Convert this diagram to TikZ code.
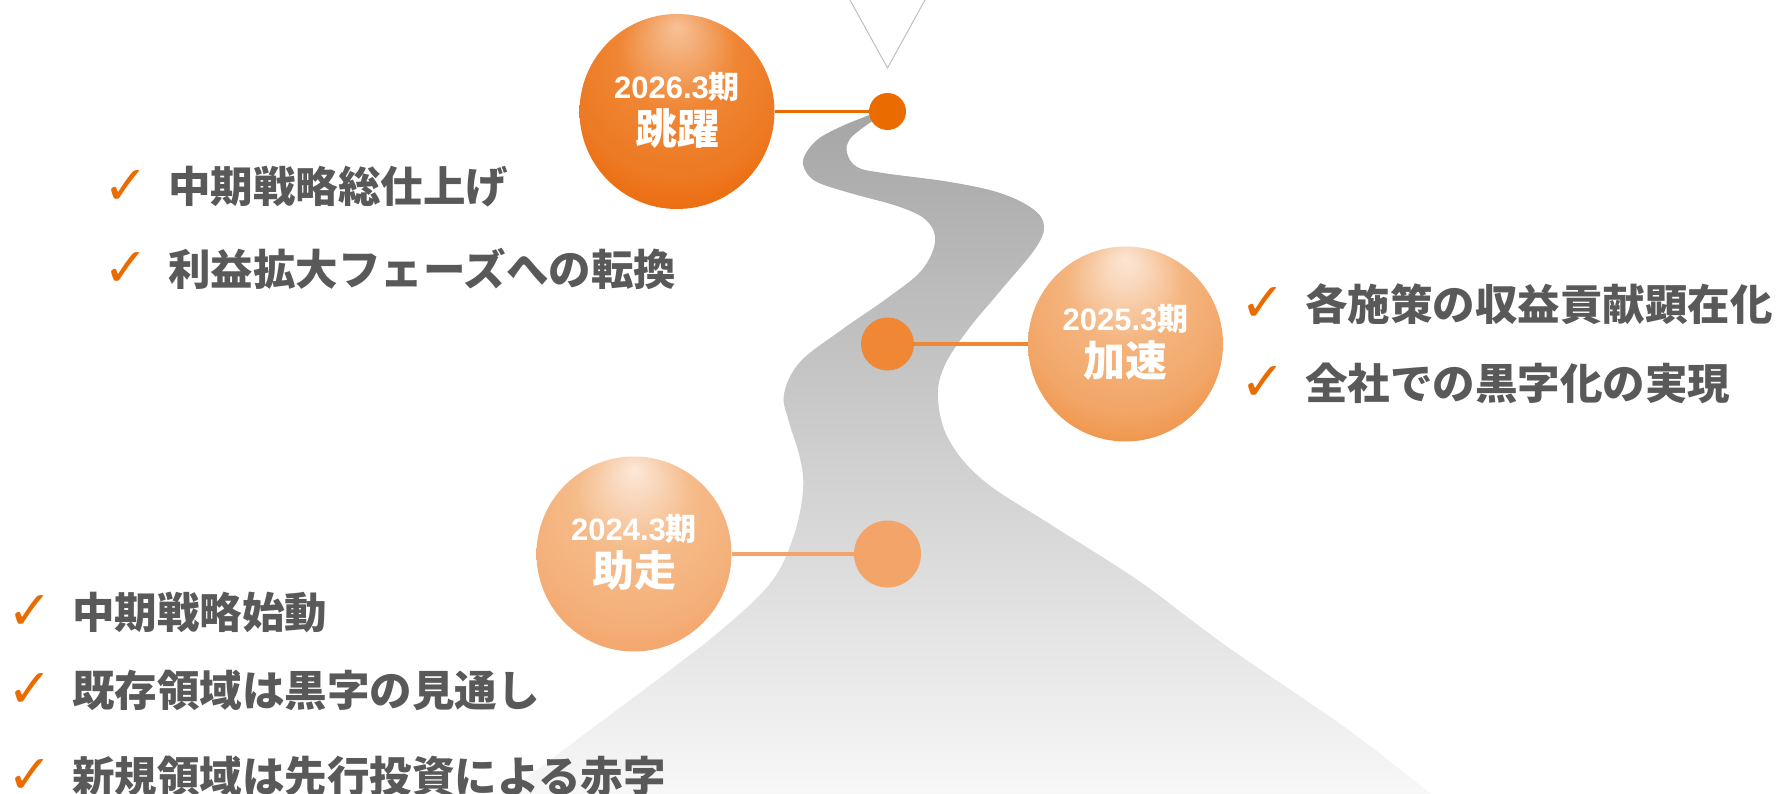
\documentclass[tikz,border=0pt]{standalone}
\usepackage{fontspec}
\usepackage{tikz}
\usetikzlibrary{positioning, calc}
\setmainfont{Liberation Sans}
\newfontfamily\jpfont{Noto Sans CJK JP}
\newfontfamily\symfont{DejaVu Sans}
\definecolor{rdText}{RGB}{89,89,89}
\definecolor{rdCheck}{RGB}{234,107,0}
\definecolor{rdGuide}{RGB}{191,191,191}
\definecolor{rdRoadTop}{RGB}{166,166,166}
\definecolor{rdRoadMid}{RGB}{223,223,223}
\definecolor{rdRoadBot}{RGB}{250,250,250}
\definecolor{rdDotA}{RGB}{234,107,0}
\definecolor{rdDotB}{RGB}{239,135,52}
\definecolor{rdDotC}{RGB}{243,164,104}
% ball colours, from highlight to rim
\definecolor{rdA0}{HTML}{F7C196}
\definecolor{rdA1}{HTML}{F4AE78}
\definecolor{rdA2}{HTML}{EF8634}
\definecolor{rdA3}{HTML}{ED7923}
\definecolor{rdA4}{HTML}{EC6D0F}
\definecolor{rdB0}{HTML}{FCE6D5}
\definecolor{rdB1}{HTML}{F9D8BC}
\definecolor{rdB2}{HTML}{F4B47E}
\definecolor{rdB3}{HTML}{F2A668}
\definecolor{rdB4}{HTML}{F0964C}
\definecolor{rdC0}{HTML}{FCE8D8}
\definecolor{rdC1}{HTML}{F9D9BF}
\definecolor{rdC2}{HTML}{F5BB89}
\definecolor{rdC3}{HTML}{F4B07A}
\definecolor{rdC4}{HTML}{F3A76D}
\pgfdeclareradialshading{rdBallA}{\pgfpoint{0bp}{22bp}}{color(0bp)=(rdA0); color(5bp)=(rdA1); color(15bp)=(rdA2); color(27bp)=(rdA3); color(33bp)=(rdA4); color(50bp)=(rdA4)}
\pgfdeclareradialshading{rdBallB}{\pgfpoint{0bp}{22bp}}{color(0bp)=(rdB0); color(5bp)=(rdB1); color(15bp)=(rdB2); color(27bp)=(rdB3); color(33bp)=(rdB4); color(50bp)=(rdB4)}
\pgfdeclareradialshading{rdBallC}{\pgfpoint{0bp}{22bp}}{color(0bp)=(rdC0); color(5bp)=(rdC1); color(15bp)=(rdC2); color(27bp)=(rdC3); color(33bp)=(rdC4); color(50bp)=(rdC4)}
\tikzset{
  item/.style={font=\jpfont\bfseries\fontsize{42.5}{48}\selectfont, text=rdText, inner sep=0pt, anchor=west},
  chk/.style={font=\symfont\fontsize{54}{58}\selectfont, text=rdCheck, inner sep=0pt},
  ball/.style={circle, minimum size=195pt, inner sep=0pt, shade},
  spot/.style={circle, inner sep=0pt},
  year/.style={font=\bfseries\fontsize{31}{34}\selectfont, text=white, inner sep=0pt},
  phase/.style={font=\jpfont\bfseries\fontsize{42}{46}\selectfont, text=white, inner sep=0pt}
}

\begin{document}
\begin{tikzpicture}[x=1pt, y=-1pt]
    \useasboundingbox (0,0) rectangle (1779,794);
    % road
    \begin{scope}
      \clip (0,0) rectangle (1779,794);
      \shade[top color=rdRoadTop, middle color=rdRoadMid, bottom color=rdRoadBot]
        plot[smooth, tension=0.6] coordinates {(872,114) (840,127) (817,140) (804,157) (805,170) (817,182) (850,193) (900,207) (927,221) (935,242) (921,271) (886,299) (840,331) (800,362) (784,394) (789,422) (800,458) (803,490) (794,535) (772,581) (726,626) (665,674) (594,727) (505,794) (478,815)}
        -- plot[smooth, tension=0.6] coordinates {(1460,815) (1431,794) (1350,731) (1225,645) (1139,581) (1053,526) (984,481) (949,440) (938,399) (944,367) (967,331) (1001,290) (1035,249) (1044,226) (1033,209) (1000,193) (950,182) (883,173) (857,167) (847,153) (850,139) (868,124) (880,117)}
        -- cycle;
    \end{scope}
    % guide
    \coordinate (vl) at (850,0);
    \coordinate (vtip) at (887.5,68);
    \coordinate (vr) at (925,0);
    \draw[rdGuide, line width=1pt] (vl) -- (vtip) -- (vr);

    % milestones
    \node[ball, shading=rdBallA] (c26) at (677,111.5) {};
    \node[ball, shading=rdBallB] (c25) at (1125.5,344) {};
    \node[ball, shading=rdBallC] (c24) at (634,554) {};
    \node[spot, fill=rdDotA, minimum size=37pt] (d26) at (887.5,111.5) {};
    \node[spot, fill=rdDotB, minimum size=53pt] (d25) at (887.5,344) {};
    \node[spot, fill=rdDotC, minimum size=67pt] (d24) at (887.5,554) {};
    \draw[rdDotA, line width=3.5pt] (c26) -- (d26);
    \draw[rdDotB, line width=4pt] (c25) -- (d25);
    \draw[rdDotC, line width=4.5pt] (c24) -- (d24);

    \node[year] (y26) at ([yshift=25pt]c26.center) {2026.3{\jpfont 期}};
    \node[phase] (p26) at ([yshift=-17pt]c26.center) {跳躍};
    \node[year] (y25) at ([yshift=25pt]c25.center) {2025.3{\jpfont 期}};
    \node[phase] (p25) at ([yshift=-17pt]c25.center) {加速};
    \node[year] (y24) at ([yshift=25pt]c24.center) {2024.3{\jpfont 期}};
    \node[phase] (p24) at ([yshift=-17pt]c24.center) {助走};

    % lists
    \node[item] (i1) at (168,187) {中期戦略総仕上げ};
    \node[item] (i2) at (168,269) {利益拡大フェーズへの転換};
    \node[item] (i3) at (1305,304) {各施策の収益貢献顕在化};
    \node[item] (i4) at (1305,383.5) {全社での黒字化の実現};
    \node[item] (i5) at (72,612.5) {中期戦略始動};
    \node[item] (i6) at (72,690) {既存領域は黒字の見通し};
    \node[item] (i7) at (72,776) {新規領域は先行投資による赤字};
    \foreach \n in {1,...,7}
      \node[chk, left=19pt of i\n] (k\n) {✓};
  \end{tikzpicture}
\end{document}
